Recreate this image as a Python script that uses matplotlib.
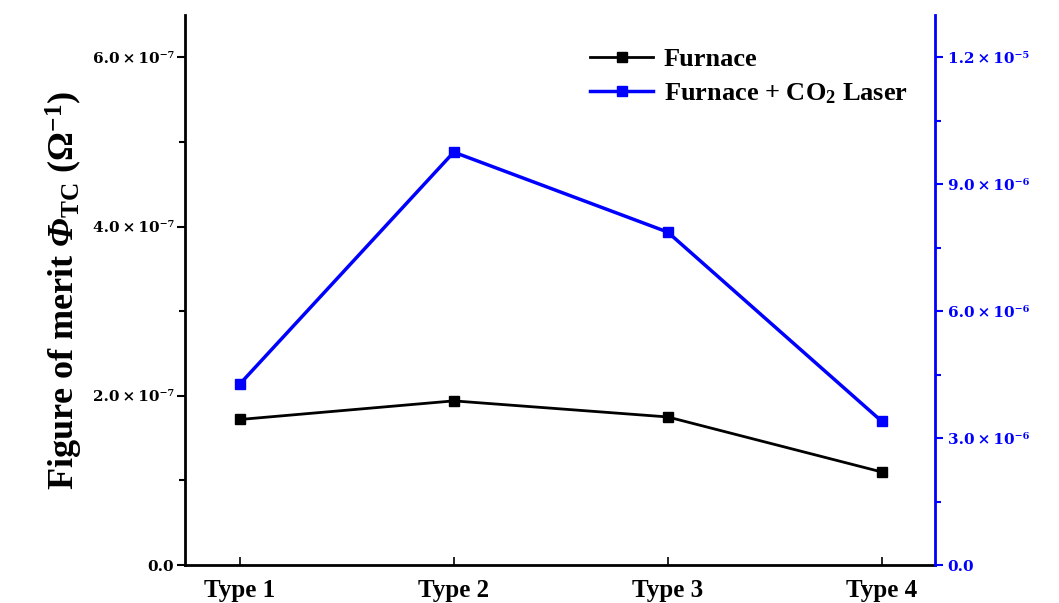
import matplotlib
matplotlib.use("Agg")
import matplotlib.pyplot as plt
from matplotlib.ticker import FixedLocator, MultipleLocator

# data
types = ['Type 1', 'Type 2', 'Type 3', 'Type 4']
furnace = [1.72e-7, 1.94e-7, 1.75e-7, 1.10e-7]
furnace_laser = [4.28e-6, 9.76e-6, 7.87e-6, 3.40e-6]

left_ticks = [0.0, 2e-7, 4e-7, 6e-7]
left_labels = ['0.0', '2.0\u2009×\u200910⁻⁷', '4.0\u2009×\u200910⁻⁷', '6.0\u2009×\u200910⁻⁷']
right_ticks = [0.0, 3e-6, 6e-6, 9e-6, 1.2e-5]
right_labels = ['0.0', '3.0\u2009×\u200910⁻⁶', '6.0\u2009×\u200910⁻⁶', '9.0\u2009×\u200910⁻⁶', '1.2\u2009×\u200910⁻⁵']

serif = 'Liberation Serif'
plt.rcParams['mathtext.fontset'] = 'custom'
plt.rcParams['mathtext.rm'] = 'Liberation Serif:bold'
plt.rcParams['mathtext.it'] = 'Liberation Serif:italic:bold'
plt.rcParams['mathtext.bf'] = 'Liberation Serif:bold'
# italic greek capital (mathit forces greek capitals upright)
plt.rcParams['mathtext.sf'] = 'Liberation Serif:italic:bold'

blue = '#0000ff'
fig = plt.figure(figsize=(10.59, 6.03), dpi=100)
ax = fig.add_axes([0.175, 0.063, 0.708, 0.912])
ax2 = ax.twinx()

x = [1, 2, 3, 4]
l1, = ax.plot(x, furnace, 'k-', marker='s', ms=7, lw=2)
l2, = ax2.plot(x, furnace_laser, '-', color=blue, marker='s', ms=7, lw=2.5)

ax.set_xlim(0.745, 4.25)
ax.set_ylim(0, 6.5e-7)
ax2.set_ylim(0, 1.3e-5)

ax.set_xticks(x)
ax.set_xticklabels(types, fontfamily=serif, fontweight='bold', fontsize=18)
ax.tick_params(axis='x', direction='in', length=6, width=1.2, pad=10)

tick_font = dict(fontfamily='DejaVu Serif', fontweight='bold', fontsize=11)
ax.yaxis.set_major_locator(FixedLocator(left_ticks))
ax.set_yticklabels(left_labels, **tick_font)
ax.yaxis.set_minor_locator(MultipleLocator(1e-7))
ax.tick_params(axis='y', which='major', direction='out', length=6, width=1.5, pad=2)
ax.tick_params(axis='y', which='minor', direction='out', length=4, width=1.5)

ax2.yaxis.set_major_locator(FixedLocator(right_ticks))
ax2.set_yticklabels(right_labels, color=blue, **tick_font)
ax2.yaxis.set_minor_locator(MultipleLocator(1.5e-6))
ax2.tick_params(axis='y', which='major', direction='out', length=6, width=1.5, colors=blue, pad=3)
ax2.tick_params(axis='y', which='minor', direction='out', length=4, width=1.5, colors=blue)

for a in (ax, ax2):
    a.spines['top'].set_visible(False)
ax.spines['left'].set_linewidth(2)
ax.spines['bottom'].set_linewidth(2)
ax2.spines['right'].set_color(blue)
ax2.spines['right'].set_linewidth(2)
ax2.spines['left'].set_visible(False)
ax2.spines['bottom'].set_visible(False)

ax.set_ylabel(r'Figure of merit $\mathsf{Φ}_{\mathrm{TC}}$ $(\Omega^{\mathrm{-1}})$',
              fontfamily=serif, fontweight='bold', fontsize=26, labelpad=6)

ax.legend([l1, l2], ['Furnace', r'Furnace + CO$_{2}$ Laser'], loc='upper right',
          bbox_to_anchor=(0.985, 0.97), frameon=False,
          prop={'family': serif, 'weight': 'bold', 'size': 19},
          handlelength=2.4, handletextpad=0.4, borderaxespad=0.2, labelspacing=0.4)

plt.savefig("out.png")
